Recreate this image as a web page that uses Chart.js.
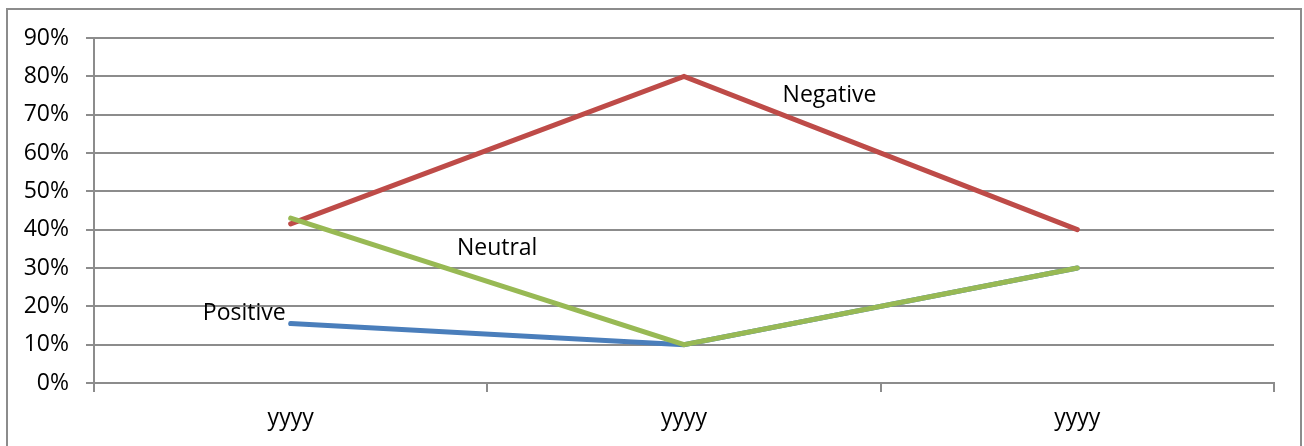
<!DOCTYPE html>
<html>
<head>
<meta charset="utf-8">
<script src="https://cdn.jsdelivr.net/npm/chart.js@4"></script>
<style>
  body { margin: 0; background: #fff; }
  #wrap { position: relative; width: 1304px; height: 446px; overflow: hidden; }
  #frame { position: absolute; left: 6px; top: 8px; width: 1296px; height: 460px; border: 2px solid #8c8c8c; box-sizing: border-box; }
  canvas { position: absolute; left: 0; top: 0; }
</style>
</head>
<body>
<div id="wrap">
  <div id="frame"></div>
  <canvas id="lineChart" width="1304" height="446"></canvas>
</div>
<script>
// カテゴリとデータ
var labels = ['yyyy', 'yyyy', 'yyyy'];
var positive = [15.5, 10, 30];
var negative = [41.5, 80, 40];
var neutral = [43, 10, 30];
var yTicks = [0, 10, 20, 30, 40, 50, 60, 70, 80, 90];

// 線の横に置くラベル (index の途中位置と値)
var seriesLabels = [
  { dataset: 2, text: 'Positive', at: 0, value: 18.2, align: 'right', dx: -5 },
  { dataset: 0, text: 'Neutral', at: 0.525, value: 35.2, align: 'center', dx: 0 },
  { dataset: 1, text: 'Negative', at: 1.37, value: 75.1, align: 'center', dx: 0 }
];

var FONT = '"Open Sans", Lato, sans-serif';
var SIZE = 23;

var lineLabels = {
  id: 'lineLabels',
  afterDatasetsDraw: function (chart) {
    var ctx = chart.ctx;
    var y = chart.scales.y;
    ctx.save();
    ctx.font = SIZE + 'px ' + FONT;
    ctx.fillStyle = '#000';
    ctx.textBaseline = 'middle';
    seriesLabels.forEach(function (l) {
      var pts = chart.getDatasetMeta(l.dataset).data;
      var i = Math.floor(l.at);
      var f = l.at - i;
      var x = pts[i].x;
      if (f > 0) x = pts[i].x + (pts[i + 1].x - pts[i].x) * f;
      ctx.textAlign = l.align;
      ctx.fillText(l.text, x + l.dx, y.getPixelForValue(l.value));
    });
    ctx.restore();
  }
};

var data = {
  labels: labels,
  datasets: [{
    label: 'Neutral',
    data: neutral,
    borderColor: '#98B954'
  }, {
    label: 'Negative',
    data: negative,
    borderColor: '#BE4B48'
  }, {
    label: 'Positive',
    data: positive,
    borderColor: '#4A7EBB'
  }]
};

var config = {
  type: 'line',
  data: data,
  options: {
    responsive: false,
    animation: false,
    layout: { padding: { top: 38, right: 30, left: 0, bottom: 0 } },
    elements: {
      line: { borderWidth: 5, tension: 0, borderCapStyle: 'round', borderJoinStyle: 'miter' },
      point: { radius: 0, hoverRadius: 0 }
    },
    plugins: {
      legend: { display: false },
      tooltip: { enabled: false }
    },
    scales: {
      x: {
        offset: true,
        grid: {
          offset: true,
          drawOnChartArea: false,
          drawTicks: true,
          tickLength: 9,
          color: '#8c8c8c',
          lineWidth: 2
        },
        border: { color: '#8c8c8c', width: 2 },
        ticks: { color: '#000', font: { family: FONT, size: SIZE }, padding: 13, maxRotation: 0 },
        afterFit: function (s) { s.height = 63; }
      },
      y: {
        min: 0,
        max: 90,
        afterBuildTicks: function (s) {
          s.ticks = yTicks.map(function (v) { return { value: v }; });
        },
        grid: {
          color: '#8c8c8c',
          lineWidth: 2,
          tickLength: 8
        },
        border: { color: '#8c8c8c', width: 2 },
        ticks: {
          color: '#000',
          font: { family: FONT, size: SIZE },
          padding: 17,
          callback: function (v) { return v + '%'; }
        },
        afterFit: function (s) { s.width = 94; }
      }
    }
  },
  plugins: [lineLabels]
};

var lineChart = new Chart(document.getElementById('lineChart'), config);
</script>
</body>
</html>
